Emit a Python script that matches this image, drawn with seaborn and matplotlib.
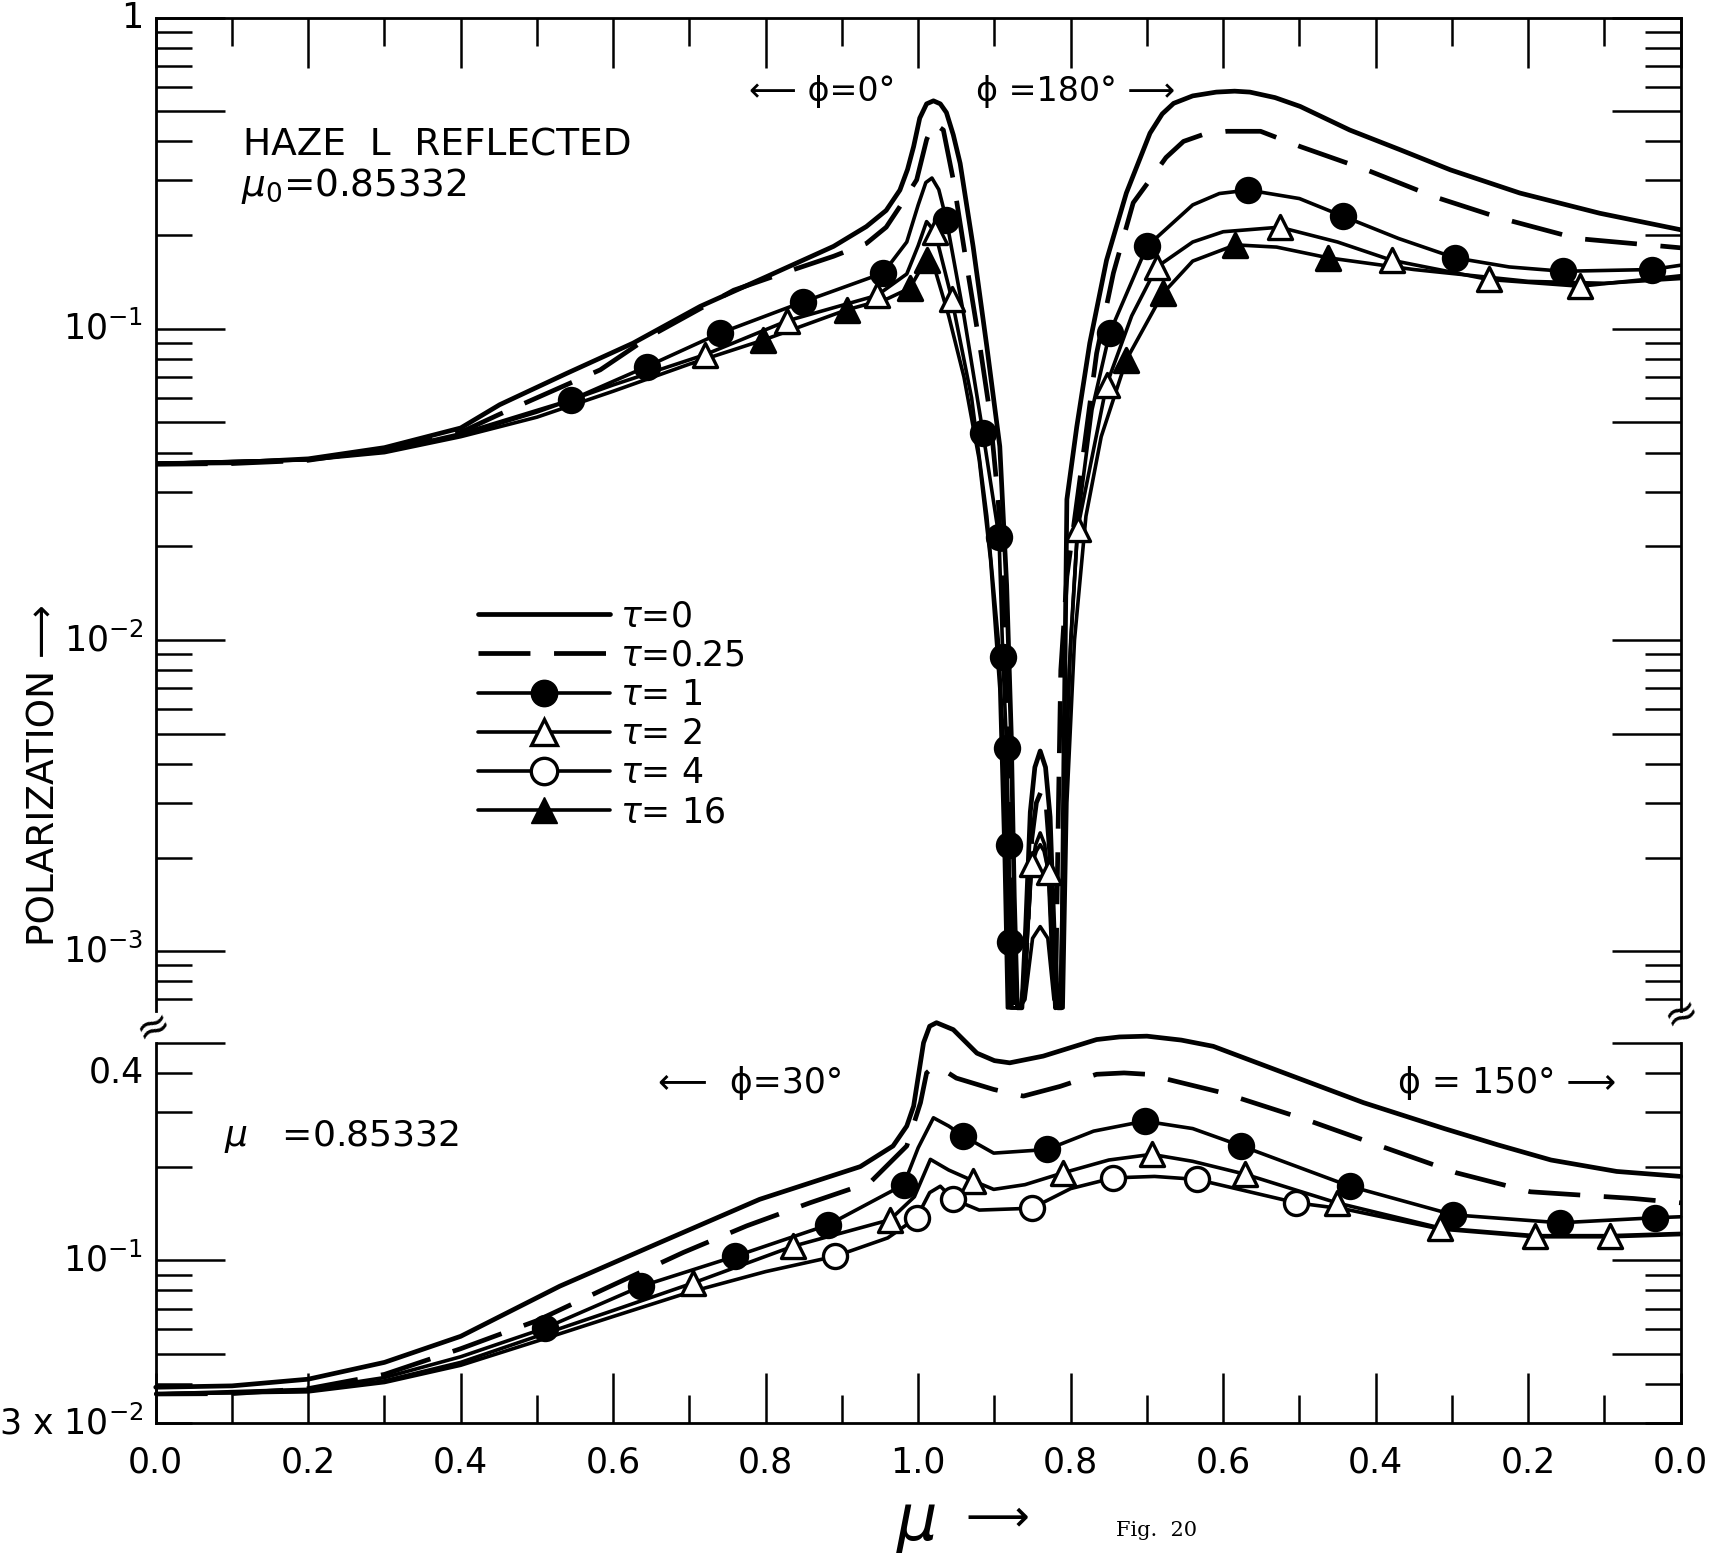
import numpy as np
import pandas as pd
import seaborn as sns
import matplotlib.pyplot as plt
from matplotlib.lines import Line2D
from matplotlib.ticker import FixedLocator, NullFormatter

# x position along the scan: 0..1 is mu on the phi=0 / 30 side,
# 1..2 is (2 - mu) on the phi=180 / 150 side
ZERO = 1e-6  # neutral points: polarization goes to zero

# ---------------- upper panel : mu0 = 0.85332, phi = 0 / 180 ----------------
up_tau0 = [(0.0, 0.0369), (0.1, 0.0371), (0.2, 0.0382), (0.3, 0.0415), (0.4, 0.048),
           (0.451, 0.057), (0.539, 0.0719), (0.626, 0.0899), (0.714, 0.118), (0.801, 0.147),
           (0.889, 0.184), (0.932, 0.213), (0.958, 0.24), (0.976, 0.279), (0.986, 0.325),
           (0.994, 0.385), (1.002, 0.475), (1.011, 0.528), (1.020, 0.540), (1.029, 0.528),
           (1.037, 0.495), (1.046, 0.420), (1.055, 0.340), (1.072, 0.184), (1.090, 0.0877),
           (1.107, 0.0419), (1.116, 0.015), (1.122, 0.005), (1.126, 0.0015), (1.130, ZERO),
           (1.136, ZERO), (1.141, 0.0012), (1.147, 0.0028), (1.153, 0.0039), (1.160, 0.0044),
           (1.167, 0.0039), (1.173, 0.0027), (1.178, 0.0012), (1.183, ZERO), (1.188, ZERO),
           (1.191, 0.004), (1.195, 0.0283), (1.208, 0.0485), (1.225, 0.0899), (1.247, 0.166),
           (1.273, 0.273), (1.304, 0.425), (1.320, 0.49), (1.335, 0.530), (1.36, 0.560),
           (1.391, 0.576), (1.415, 0.580), (1.435, 0.576), (1.468, 0.553), (1.501, 0.518),
           (1.566, 0.435), (1.632, 0.376), (1.698, 0.324), (1.789, 0.273), (1.894, 0.235),
           (2.0, 0.208)]
up_tau025 = [(0.0, 0.0367), (0.1, 0.0369), (0.2, 0.0378), (0.3, 0.041), (0.4, 0.0465),
             (0.45, 0.053), (0.583, 0.0738), (0.648, 0.0945), (0.758, 0.133), (0.823, 0.151),
             (0.889, 0.171), (0.932, 0.188), (0.958, 0.212), (0.976, 0.247), (0.998, 0.301),
             (1.011, 0.405), (1.020, 0.458), (1.033, 0.435), (1.046, 0.301), (1.064, 0.158),
             (1.081, 0.0878), (1.094, 0.0536), (1.105, 0.028), (1.113, 0.012), (1.119, 0.004),
             (1.123, 0.0012), (1.127, ZERO), (1.137, ZERO), (1.143, 0.0011), (1.149, 0.0023),
             (1.155, 0.0030), (1.162, 0.0033), (1.168, 0.0029), (1.173, 0.0020), (1.177, 0.001),
             (1.180, ZERO), (1.184, 0.003), (1.187, 0.008), (1.195, 0.016), (1.212, 0.0327),
             (1.234, 0.0834), (1.256, 0.151), (1.282, 0.254), (1.304, 0.301), (1.325, 0.355),
             (1.348, 0.400), (1.375, 0.422), (1.405, 0.431), (1.449, 0.431), (1.501, 0.385),
             (1.588, 0.324), (1.676, 0.266), (1.763, 0.227), (1.864, 0.195), (2.0, 0.182)]
up_tau1 = [(0.0, 0.0369), (0.2, 0.038), (0.3, 0.0405), (0.4, 0.046), (0.544, 0.059),
           (0.644, 0.0756), (0.740, 0.0968), (0.849, 0.122), (0.954, 0.151), (0.985, 0.19),
           (1.0, 0.25), (1.010, 0.295), (1.018, 0.305), (1.027, 0.28), (1.037, 0.224),
           (1.06, 0.11), (1.085, 0.0462), (1.106, 0.0214), (1.111, 0.0088), (1.116, 0.0045),
           (1.119, 0.0022), (1.1205, 0.00107), (1.123, ZERO), (1.135, ZERO), (1.142, 0.001),
           (1.148, 0.0018), (1.154, 0.0022), (1.160, 0.0024), (1.166, 0.0022), (1.171, 0.0017),
           (1.175, 0.001), (1.180, ZERO), (1.186, ZERO), (1.19, 0.002), (1.198, 0.008),
           (1.21, 0.025), (1.228, 0.055), (1.251, 0.0968), (1.300, 0.184), (1.36, 0.25),
           (1.395, 0.272), (1.433, 0.279), (1.50, 0.262), (1.557, 0.230), (1.63, 0.195),
           (1.704, 0.169), (1.775, 0.158), (1.846, 0.153), (1.962, 0.155), (2.0, 0.16)]
up_tau2 = [(0.0, 0.0369), (0.2, 0.038), (0.3, 0.0403), (0.4, 0.0455), (0.5, 0.054),
           (0.6, 0.066), (0.720, 0.0825), (0.828, 0.106), (0.946, 0.128), (0.985, 0.15),
           (1.0, 0.185), (1.011, 0.221), (1.022, 0.205), (1.044, 0.125), (1.07, 0.06),
           (1.09, 0.025), (1.105, 0.01), (1.113, 0.004), (1.118, 0.0012), (1.121, ZERO),
           (1.134, ZERO), (1.141, 0.0009), (1.149, 0.0019), (1.155, 0.0021), (1.160, 0.0022),
           (1.165, 0.0021), (1.171, 0.0018), (1.178, 0.0008), (1.183, ZERO), (1.188, ZERO),
           (1.192, 0.003), (1.2, 0.01), (1.209, 0.0227), (1.247, 0.066), (1.28, 0.11),
           (1.313, 0.158), (1.36, 0.19), (1.40, 0.205), (1.474, 0.212), (1.55, 0.19),
           (1.621, 0.166), (1.748, 0.144), (1.868, 0.137), (2.0, 0.148)]
up_tau16 = [(0.0, 0.0369), (0.2, 0.0379), (0.3, 0.040), (0.4, 0.045), (0.5, 0.052),
            (0.6, 0.063), (0.7, 0.077), (0.797, 0.092), (0.906, 0.115), (0.960, 0.125),
            (0.989, 0.135), (1.003, 0.155), (1.011, 0.166), (1.022, 0.155), (1.04, 0.11),
            (1.06, 0.07), (1.08, 0.038), (1.095, 0.018), (1.107, 0.007), (1.113, 0.002),
            (1.117, ZERO), (1.133, ZERO), (1.140, 0.0007), (1.150, 0.0011), (1.160, 0.0012),
            (1.170, 0.0011), (1.178, 0.0007), (1.185, ZERO), (1.19, ZERO), (1.195, 0.003),
            (1.205, 0.01), (1.22, 0.025), (1.24, 0.045), (1.273, 0.0795), (1.321, 0.130),
            (1.36, 0.165), (1.416, 0.186), (1.47, 0.183), (1.538, 0.169), (1.65, 0.155),
            (1.8, 0.142), (1.9, 0.140), (2.0, 0.145)]

up_tau1_marks = [0.544, 0.644, 0.740, 0.849, 0.954, 1.037, 1.085, 1.106, 1.111, 1.116,
                 1.119, 1.1205, 1.251, 1.300, 1.433, 1.557, 1.704, 1.846, 1.962]
up_tau2_marks = [0.720, 0.828, 0.946, 1.022, 1.044, 1.149, 1.171, 1.209, 1.247, 1.313,
                 1.474, 1.621, 1.748, 1.868]
up_tau16_marks = [0.797, 0.906, 0.989, 1.011, 1.273, 1.321, 1.416, 1.538]

# ---------------- lower panel : mu = 0.85332, phi = 30 / 150 ----------------
lo_tau0 = [(0.0, 0.0391), (0.1, 0.0395), (0.2, 0.0415), (0.3, 0.047), (0.4, 0.057),
           (0.53, 0.0826), (0.661, 0.114), (0.792, 0.157), (0.924, 0.200), (0.967, 0.233),
           (0.985, 0.27), (0.994, 0.313), (1.007, 0.50), (1.015, 0.565), (1.024, 0.58),
           (1.046, 0.551), (1.077, 0.463), (1.10, 0.438), (1.12, 0.431), (1.164, 0.453),
           (1.234, 0.512), (1.264, 0.522), (1.30, 0.525), (1.345, 0.51), (1.387, 0.487),
           (1.474, 0.405), (1.584, 0.321), (1.69, 0.265), (1.76, 0.235), (1.83, 0.21),
           (1.916, 0.193), (2.0, 0.186)]
lo_tau025 = [(0.0, 0.0372), (0.1, 0.0373), (0.2, 0.0387), (0.3, 0.043), (0.4, 0.052),
             (0.5, 0.064), (0.587, 0.0806), (0.692, 0.106), (0.775, 0.129), (0.858, 0.153),
             (0.937, 0.178), (0.985, 0.233), (1.003, 0.321), (1.011, 0.40), (1.02, 0.418),
             (1.029, 0.415), (1.05, 0.385), (1.099, 0.354), (1.138, 0.337), (1.186, 0.362),
             (1.234, 0.396), (1.27, 0.40), (1.30, 0.396), (1.40, 0.345), (1.509, 0.283),
             (1.606, 0.233), (1.706, 0.191), (1.803, 0.166), (1.938, 0.158), (2.0, 0.153)]
lo_tau1 = [(0.0, 0.0372), (0.2, 0.0385), (0.3, 0.042), (0.4, 0.049), (0.510, 0.0605),
           (0.637, 0.0826), (0.760, 0.103), (0.882, 0.130), (0.981, 0.175), (1.0, 0.23),
           (1.020, 0.287), (1.04, 0.27), (1.059, 0.251), (1.099, 0.221), (1.169, 0.227),
           (1.23, 0.26), (1.297, 0.280), (1.36, 0.265), (1.424, 0.233), (1.566, 0.173),
           (1.702, 0.140), (1.842, 0.132), (1.966, 0.137), (2.0, 0.138)]
lo_tau2 = [(0.0, 0.0372), (0.2, 0.038), (0.3, 0.041), (0.4, 0.047), (0.5, 0.057),
           (0.6, 0.069), (0.705, 0.0846), (0.836, 0.111), (0.963, 0.135), (0.995, 0.16),
           (1.016, 0.211), (1.04, 0.195), (1.072, 0.180), (1.099, 0.169), (1.14, 0.175),
           (1.190, 0.191), (1.25, 0.21), (1.306, 0.219), (1.36, 0.208), (1.429, 0.189),
           (1.549, 0.153), (1.685, 0.127), (1.809, 0.120), (1.907, 0.120), (2.0, 0.122)]
lo_tau4 = [(0.0, 0.0372), (0.2, 0.0378), (0.3, 0.0405), (0.4, 0.046), (0.5, 0.055),
           (0.6, 0.066), (0.7, 0.079), (0.8, 0.092), (0.891, 0.103), (0.96, 0.118),
           (0.998, 0.137), (1.015, 0.165), (1.029, 0.173), (1.046, 0.157), (1.08, 0.145),
           (1.149, 0.147), (1.2, 0.17), (1.256, 0.184), (1.31, 0.186), (1.365, 0.182),
           (1.496, 0.153), (1.56, 0.146), (1.685, 0.126), (1.809, 0.119), (1.907, 0.119),
           (2.0, 0.121)]

lo_tau1_marks = [0.510, 0.637, 0.760, 0.882, 0.981, 1.059, 1.169, 1.297, 1.424, 1.566,
                 1.702, 1.842, 1.966]
lo_tau2_marks = [0.705, 0.836, 0.963, 1.072, 1.190, 1.306, 1.429, 1.549, 1.685, 1.809, 1.907]
lo_tau4_marks = [0.891, 0.998, 1.046, 1.149, 1.256, 1.365, 1.496]

xtick_pos = np.round(np.arange(0, 2.01, 0.2), 1)
xtick_lab = ["%.1f" % (s if s <= 1 else 2 - s) for s in xtick_pos]

UP_YLIM = (6.45e-4, 1.0)
LO_YLIM = (0.03, 0.5)

sns.set_style("ticks")
plt.rcParams["font.family"] = ["DejaVu Sans"]
plt.rcParams["mathtext.fontset"] = "dejavusans"
for key in ("text.color", "axes.labelcolor", "xtick.color", "ytick.color", "axes.edgecolor"):
    plt.rcParams[key] = "black"

fig = plt.figure(figsize=(17.19, 15.65), dpi=100)
ax_up = fig.add_axes([0.0906, 0.3543, 0.8871, 0.6345])
ax_lo = fig.add_axes([0.0906, 0.0907, 0.8871, 0.2430])

LW_MAIN = 3.4
LW_THIN = 2.6
DASH = (0, (11, 5))


def draw_curve(ax, pts, lw, ls="-", floor=None, clip=True):
    df = pd.DataFrame(pts, columns=["s", "p"])
    if floor is not None:
        df["p"] = df["p"].clip(lower=floor)
    sns.lineplot(data=df, x="s", y="p", ax=ax, color="black", linewidth=lw,
                 linestyle=ls, estimator=None, sort=False, clip_on=clip, zorder=2)


def draw_marks(ax, pts, where, marker, face, size, clip=True):
    arr = np.asarray(pts)
    p = 10 ** np.interp(where, arr[:, 0], np.log10(arr[:, 1]))
    sns.scatterplot(x=where, y=p, ax=ax, marker=marker, s=size, color=face,
                    edgecolor="black", linewidth=2.4, zorder=4, clip_on=clip, legend=False)


floor = UP_YLIM[0] * 1.02
draw_curve(ax_up, up_tau0, LW_MAIN, floor=floor)
draw_curve(ax_up, up_tau025, LW_MAIN, ls=DASH, floor=floor)
draw_curve(ax_up, up_tau1, LW_THIN, floor=floor)
draw_curve(ax_up, up_tau2, LW_THIN, floor=floor)
draw_curve(ax_up, up_tau16, LW_THIN, floor=floor)
draw_marks(ax_up, up_tau1, up_tau1_marks, "o", "black", 300)
draw_marks(ax_up, up_tau2, up_tau2_marks, "^", "white", 300)
draw_marks(ax_up, up_tau16, up_tau16_marks, "^", "black", 300)

draw_curve(ax_lo, lo_tau0, LW_MAIN, clip=False)
draw_curve(ax_lo, lo_tau025, LW_MAIN, ls=DASH, clip=False)
draw_curve(ax_lo, lo_tau1, LW_THIN, clip=False)
draw_curve(ax_lo, lo_tau2, LW_THIN, clip=False)
draw_curve(ax_lo, lo_tau4, LW_THIN, clip=False)
draw_marks(ax_lo, lo_tau1, lo_tau1_marks, "o", "black", 300, clip=False)
draw_marks(ax_lo, lo_tau2, lo_tau2_marks, "^", "white", 300, clip=False)
draw_marks(ax_lo, lo_tau4, lo_tau4_marks, "o", "white", 300, clip=False)


def log_ticks(lo_exp, hi_exp):
    long_t, short_t = [], []
    for e in range(lo_exp, hi_exp + 1):
        for k in range(1, 10):
            (long_t if k in (1, 5) else short_t).append(k * 10.0 ** e)
    return long_t, short_t


for ax, ylim in ((ax_up, UP_YLIM), (ax_lo, LO_YLIM)):
    ax.set_yscale("log")
    ax.set_xlim(0, 2)
    ax.set_ylim(*ylim)
    long_t, short_t = log_ticks(-4, 0)
    ax.yaxis.set_major_locator(FixedLocator(long_t))
    ax.yaxis.set_minor_locator(FixedLocator(short_t))
    ax.yaxis.set_major_formatter(NullFormatter())
    ax.yaxis.set_minor_formatter(NullFormatter())
    ax.xaxis.set_major_locator(FixedLocator(list(xtick_pos)))
    ax.xaxis.set_minor_locator(FixedLocator(list(np.arange(0.1, 2.0, 0.2))))
    ax.tick_params(axis="y", which="major", length=50, width=1.8, direction="in",
                   left=True, right=True)
    ax.tick_params(axis="y", which="minor", length=26, width=1.8, direction="in",
                   left=True, right=True)
    ax.tick_params(axis="x", which="major", length=36, width=1.8, direction="in")
    ax.tick_params(axis="x", which="minor", length=20, width=1.8, direction="in")
    ax.set_xlabel("")
    ax.set_ylabel("")
    for sp in ax.spines.values():
        sp.set_linewidth(2.0)
        sp.set_color("black")

ax_up.spines["bottom"].set_visible(False)
ax_up.tick_params(axis="x", which="both", top=True, bottom=False,
                  labeltop=False, labelbottom=False)
ax_lo.spines["top"].set_visible(False)
ax_lo.tick_params(axis="x", which="both", top=False, bottom=True)
ax_lo.set_xticks(xtick_pos, xtick_lab)
ax_lo.tick_params(axis="x", labelsize=25, pad=16, labelcolor="black")

# y tick labels, only at a few values
up_ylab = [(1.0, "1"), (0.1, r"$10^{-1}$"), (0.01, r"$10^{-2}$"), (0.001, r"$10^{-3}$")]
lo_ylab = [(0.4, "0.4"), (0.1, r"$10^{-1}$"), (0.03, r"3 x $10^{-2}$")]
for ax, labs in ((ax_up, up_ylab), (ax_lo, lo_ylab)):
    for val, lab in labs:
        ax.text(-0.008, val, lab, transform=ax.get_yaxis_transform(),
                ha="right", va="center", fontsize=25)

# annotations
ax_up.text(0.0575, 0.871, "HAZE  L  REFLECTED", transform=ax_up.transAxes,
           fontsize=27, ha="left", va="center")
ax_up.text(0.056, 0.830, r"$\mu_0$=0.85332", transform=ax_up.transAxes,
           fontsize=27, ha="left", va="center")
ax_up.text(0.437, 0.926, "⟵ ϕ=0°", transform=ax_up.transAxes,
           fontsize=24, ha="center", va="center")
ax_up.text(0.603, 0.926, "ϕ =180° ⟶", transform=ax_up.transAxes,
           fontsize=24, ha="center", va="center")
ax_lo.text(0.390, 0.895, "⟵  ϕ=30°", transform=ax_lo.transAxes,
           fontsize=25, ha="center", va="center")
ax_lo.text(0.886, 0.895, "ϕ = 150° ⟶", transform=ax_lo.transAxes,
           fontsize=25, ha="center", va="center")
ax_lo.text(0.045, 0.754, r"$\mu$   =0.85332", transform=ax_lo.transAxes,
           fontsize=26, ha="left", va="center")

# legend
handles = [
    Line2D([], [], color="black", lw=LW_MAIN),
    Line2D([], [], color="black", lw=LW_MAIN, ls=DASH),
    Line2D([], [], color="black", lw=LW_THIN, marker="o", ms=19, mfc="black", mec="black"),
    Line2D([], [], color="black", lw=LW_THIN, marker="^", ms=19, mfc="white", mec="black", mew=2.4),
    Line2D([], [], color="black", lw=LW_THIN, marker="o", ms=19, mfc="white", mec="black", mew=2.4),
    Line2D([], [], color="black", lw=LW_THIN, marker="^", ms=19, mfc="black", mec="black"),
]
labels = [r"$\tau$=0", r"$\tau$=0.25", r"$\tau$= 1", r"$\tau$= 2", r"$\tau$= 4", r"$\tau$= 16"]
ax_up.legend(handles, labels, loc="upper left", bbox_to_anchor=(0.202, 0.428),
             frameon=False, fontsize=25, handlelength=3.8, handletextpad=0.3,
             labelspacing=0.15, borderaxespad=0.0, labelcolor="black")

# axis titles and break marks
fig.text(0.026, 0.505, "POLARIZATION ⟶", rotation=90, fontsize=27,
         ha="center", va="center")
fig.text(0.533, 0.026, r"$\mu$", fontsize=46, ha="center", va="center")
fig.text(0.580, 0.030, "⟶", fontsize=32, ha="center", va="center")
fig.text(0.673, 0.022, "Fig.  20", fontsize=15, family="DejaVu Serif",
         ha="center", va="center")
fig.text(0.0895, 0.344, "≈", fontsize=30, rotation=25, ha="center", va="center")
fig.text(0.978, 0.352, "≈", fontsize=30, rotation=25, ha="center", va="center")

fig.savefig("out.png", dpi=100, facecolor="white")
